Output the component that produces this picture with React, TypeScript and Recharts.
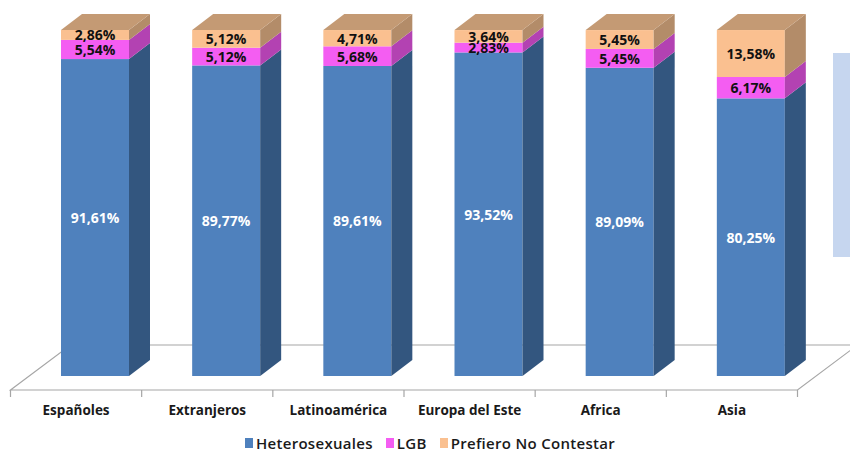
import React from 'react';
import { BarChart, Bar, XAxis, YAxis, LabelList, Legend } from 'recharts';

const categories = ['Españoles', 'Extranjeros', 'Latinoamérica', 'Europa del Este', 'Africa', 'Asia'];
const heterosexuales = [91.61, 89.77, 89.61, 93.52, 89.09, 80.25];
const lgb = [5.54, 5.12, 5.68, 2.83, 5.45, 6.17];
const prefieroNoContestar = [2.86, 5.12, 4.71, 3.64, 5.45, 13.58];

const data = categories.map((name, i) => ({
  name,
  het: heterosexuales[i],
  lgb: lgb[i],
  pnc: prefieroNoContestar[i],
}));

const W = 850;
const H = 454;
const M = { top: 30, right: 34, left: 29, bottom: 0 };
const XAXIS_H = 50;
const LEGEND_H = 28;
const PLOT_BOTTOM = H - M.bottom - LEGEND_H - XAXIS_H; // 376
const PLOT_LEFT = M.left;
const PLOT_RIGHT = W - M.right;
const DX = 21;
const DY = 16;
// floor geometry (perspective offset of bar front relative to floor front edge)
const FLOOR_SHIFT_X = 18.5;
const FLOOR_SHIFT_Y = 14;
const FLOOR_DEPTH_Y = 45;
const FLOOR_DEPTH_X = 60;

const FONT = '"Open Sans", "DejaVu Sans", sans-serif';

const COLORS = {
  het: { front: '#4f81bd', side: '#33567f', top: '#3d6496' },
  lgb: { front: '#f45df2', side: '#b342b2', top: '#c74bc6' },
  pnc: { front: '#fac090', side: '#b38c69', top: '#c49a74' },
};

const fmt = (v: number) => v.toFixed(2).replace('.', ',') + '%';

const make3D = (key: 'het' | 'lgb' | 'pnc', withTop: boolean) => (props: any) => {
  const { x, y, width, height } = props;
  if (!height || height <= 0) return <g />;
  const c = COLORS[key];
  const side = `${x + width},${y} ${x + width + DX},${y - DY} ${x + width + DX},${y + height - DY} ${x + width},${y + height}`;
  const top = `${x},${y} ${x + DX},${y - DY} ${x + width + DX},${y - DY} ${x + width},${y}`;
  return (
    <g>
      <rect x={x} y={y} width={width} height={height} fill={c.front} />
      <polygon points={side} fill={c.side} />
      {withTop && <polygon points={top} fill={c.top} />}
    </g>
  );
};

const makeLabel = (color: string) => (props: any) => {
  const { x, y, width, height, value } = props;
  return (
    <text
      x={x + width / 2}
      y={y + height / 2}
      textAnchor="middle"
      dominantBaseline="central"
      fill={color}
      fontFamily={FONT}
      fontWeight={700}
      fontSize={14}
    >
      {fmt(value)}
    </text>
  );
};

const CatTick = (props: any) => {
  const { x, payload } = props;
  return (
    <text
      x={x - FLOOR_SHIFT_X}
      y={PLOT_BOTTOM + 34}
      textAnchor="middle"
      dominantBaseline="central"
      fill="#1a1a1a"
      fontFamily={FONT}
      fontWeight={700}
      fontSize={13.5}
    >
      {payload.value}
    </text>
  );
};

const legendItems = [
  { label: 'Heterosexuales', color: COLORS.het.front },
  { label: 'LGB', color: COLORS.lgb.front },
  { label: 'Prefiero No Contestar', color: COLORS.pnc.front },
];

const LegendContent = () => (
  <div
    style={{
      display: 'flex',
      justifyContent: 'center',
      alignItems: 'center',
      height: 16,
      marginTop: 9,
      lineHeight: '16px',
      fontFamily: FONT,
      fontSize: 15,
      fontWeight: 600,
      letterSpacing: 0.3,
      color: '#1a1a1a',
      paddingLeft: 28,
    }}
  >
    {legendItems.map((it) => (
      <div key={it.label} style={{ display: 'flex', alignItems: 'center', marginRight: 13 }}>
        <span style={{ display: 'inline-block', width: 8, height: 10, background: it.color, marginRight: 3 }} />
        <span>{it.label}</span>
      </div>
    ))}
  </div>
);

const Floor = () => {
  const fy = PLOT_BOTTOM + FLOOR_SHIFT_Y;
  const fl = PLOT_LEFT - FLOOR_SHIFT_X;
  const fr = PLOT_RIGHT - FLOOR_SHIFT_X;
  const by = fy - FLOOR_DEPTH_Y;
  const step = (fr - fl) / categories.length;
  const ticks = [];
  for (let i = 0; i <= categories.length; i++) ticks.push(fl + i * step);
  return (
    <svg width={W} height={H} style={{ position: 'absolute', left: 0, top: 0 }}>
      <rect x={0} y={0} width={W} height={H} fill="#ffffff" />
      <polygon
        points={`${fl},${fy} ${fl + FLOOR_DEPTH_X},${by} ${fr + FLOOR_DEPTH_X},${by} ${fr},${fy}`}
        fill="#ffffff"
        stroke="#a6a6a6"
        strokeWidth={1.2}
      />
      {ticks.map((t, i) => (
        <line key={i} x1={t} y1={fy} x2={t} y2={fy + 7} stroke="#a6a6a6" strokeWidth={1.2} />
      ))}
      <rect x={833} y={53} width={20} height={204} fill="#c6d6ef" />
    </svg>
  );
};

export default function App() {
  return (
    <div style={{ position: 'absolute', left: 0, top: 0, width: W, height: H, overflow: 'hidden' }}>
      <Floor />
      <div style={{ position: 'absolute', left: 0, top: 0 }}>
        <BarChart width={W} height={H} data={data} margin={M} barSize={68}>
          <XAxis dataKey="name" axisLine={false} tickLine={false} height={XAXIS_H} tick={<CatTick />} interval={0} />
          <YAxis hide domain={[0, 100]} />
          <Legend verticalAlign="bottom" height={LEGEND_H} content={<LegendContent />} />
          <Bar dataKey="het" stackId="a" fill={COLORS.het.front} isAnimationActive={false} shape={make3D('het', false)}>
            <LabelList dataKey="het" content={makeLabel('#ffffff')} />
          </Bar>
          <Bar dataKey="lgb" stackId="a" fill={COLORS.lgb.front} isAnimationActive={false} shape={make3D('lgb', false)}>
            <LabelList dataKey="lgb" content={makeLabel('#111111')} />
          </Bar>
          <Bar dataKey="pnc" stackId="a" fill={COLORS.pnc.front} isAnimationActive={false} shape={make3D('pnc', true)}>
            <LabelList dataKey="pnc" content={makeLabel('#111111')} />
          </Bar>
        </BarChart>
      </div>
    </div>
  );
}
